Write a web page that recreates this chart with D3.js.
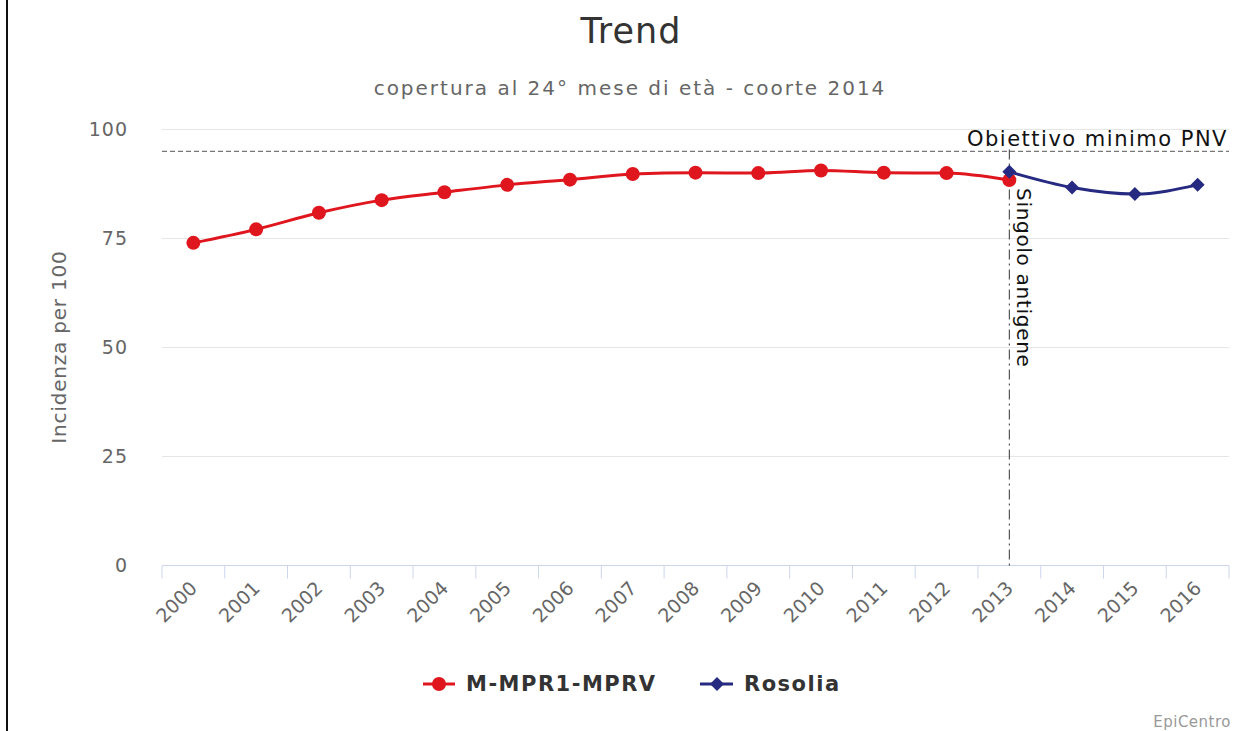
<!DOCTYPE html>
<html>
<head>
<meta charset="utf-8">
<script src="https://cdn.jsdelivr.net/npm/d3@7"></script>
<style>
  html, body { margin: 0; padding: 0; background: #fff; }
  svg { display: block; font-family: "DejaVu Sans", "Open Sans", sans-serif; }
</style>
</head>
<body>
<svg id="chart" width="1251" height="731"></svg>
<script>
// ---- data ----
const years = ["2000","2001","2002","2003","2004","2005","2006","2007","2008","2009","2010","2011","2012","2013","2014","2015","2016"];
const mprYears = ["2000","2001","2002","2003","2004","2005","2006","2007","2008","2009","2010","2011","2012","2013"];
const mprValues = [74.0, 77.1, 80.9, 83.8, 85.6, 87.3, 88.5, 89.8, 90.1, 90.0, 90.6, 90.1, 90.0, 88.4];
const rosYears = ["2013","2014","2015","2016"];
const rosValues = [90.3, 86.7, 85.2, 87.3];
const yTicks = [0, 25, 50, 75, 100];
const objective = 95;
const plotLineYear = "2013";
const seriesNames = ["M-MPR1-MPRV", "Rosolia"];

(function () {
const svg = d3.select("#chart");
const W = 1251, H = 731;
const pLeft = 162, pRight = 1229, pTop = 129.5, pBottom = 565.5;
const red = "#e0161e", blue = "#262a80";

// frame line on the left
svg.append("line").attr("x1", 7).attr("x2", 7).attr("y1", 0).attr("y2", H)
  .attr("stroke", "#111").attr("stroke-width", 2);

const x = d3.scaleBand().domain(years).range([pLeft, pRight]).padding(0);
const xc = d => x(d) + x.bandwidth() / 2;
const y = d3.scaleLinear().domain([0, 100]).range([pBottom, pTop]);

// gridlines
svg.append("g").selectAll("line").data(yTicks.filter(t => t > 0)).join("line")
  .attr("x1", pLeft).attr("x2", pRight)
  .attr("y1", d => y(d)).attr("y2", d => y(d))
  .attr("stroke", "#e6e6e6").attr("stroke-width", 1);

// y labels
svg.append("g").selectAll("text").data(yTicks).join("text")
  .attr("x", 128).attr("y", d => y(d)).attr("dy", "0.35em")
  .attr("text-anchor", "end").attr("fill", "#666").attr("font-size", 19)
  .attr("letter-spacing", 1)
  .text(d => d);

// y title
svg.append("text")
  .attr("transform", `translate(${66},${347}) rotate(-90)`)
  .attr("text-anchor", "middle").attr("fill", "#666").attr("font-size", 20)
  .attr("letter-spacing", 0.8)
  .text("Incidenza per 100");

// x axis line and ticks
svg.append("line").attr("x1", pLeft).attr("x2", pRight).attr("y1", pBottom).attr("y2", pBottom)
  .attr("stroke", "#ccd6eb").attr("stroke-width", 1);
const tickPos = years.map(d => x(d)).concat([pRight]);
svg.append("g").selectAll("line").data(tickPos).join("line")
  .attr("x1", d => d).attr("x2", d => d).attr("y1", pBottom).attr("y2", pBottom + 13)
  .attr("stroke", "#ccd6eb").attr("stroke-width", 1);

// x labels (rotated)
svg.append("g").selectAll("text").data(years).join("text")
  .attr("transform", d => `translate(${xc(d) + 5},${pBottom + 24}) rotate(-45)`)
  .attr("text-anchor", "end").attr("fill", "#666").attr("font-size", 19)
  .text(d => d);

// objective line
svg.append("line").attr("x1", pLeft).attr("x2", pRight)
  .attr("y1", y(objective)).attr("y2", y(objective))
  .attr("stroke", "#555").attr("stroke-width", 1).attr("stroke-dasharray", "5,3");
svg.append("text").attr("x", pRight - 1).attr("y", y(objective) - 5)
  .attr("text-anchor", "end").attr("fill", "#111").attr("font-size", 21)
  .attr("letter-spacing", 1.5)
  .text("Obiettivo minimo PNV");

// vertical plot line
svg.append("line").attr("x1", xc(plotLineYear)).attr("x2", xc(plotLineYear))
  .attr("y1", pTop + 20).attr("y2", pBottom)
  .attr("stroke", "#333").attr("stroke-width", 1).attr("stroke-dasharray", "10,4,2,4");
svg.append("text")
  .attr("transform", `translate(${xc(plotLineYear) + 8},${188}) rotate(90)`)
  .attr("text-anchor", "start").attr("fill", "#111").attr("font-size", 20)
  .attr("letter-spacing", 0.7)
  .text("Singolo antigene");

// series
const line = d3.line().curve(d3.curveMonotoneX);
const mprPts = mprYears.map((d, i) => [xc(d), y(mprValues[i])]);
const rosPts = rosYears.map((d, i) => [xc(d), y(rosValues[i])]);

svg.append("path").attr("d", line(mprPts)).attr("fill", "none")
  .attr("stroke", red).attr("stroke-width", 3);
svg.append("g").selectAll("circle").data(mprPts).join("circle")
  .attr("cx", d => d[0]).attr("cy", d => d[1]).attr("r", 7).attr("fill", red);

svg.append("path").attr("d", line(rosPts)).attr("fill", "none")
  .attr("stroke", blue).attr("stroke-width", 3);
const diamond = (cx, cy, r) => `M${cx},${cy - r}L${cx + r},${cy}L${cx},${cy + r}L${cx - r},${cy}Z`;
svg.append("g").selectAll("path").data(rosPts).join("path")
  .attr("d", d => diamond(d[0], d[1], 7)).attr("fill", blue);

// title & subtitle
svg.append("text").attr("x", 631).attr("y", 43).attr("text-anchor", "middle")
  .attr("fill", "#333").attr("font-size", 35).attr("letter-spacing", 1).text("Trend");
svg.append("text").attr("x", 630).attr("y", 95).attr("text-anchor", "middle")
  .attr("fill", "#666").attr("font-size", 20).attr("letter-spacing", 2)
  .text("copertura al 24° mese di età - coorte 2014");

// legend
const lg = svg.append("g");
const ly = 684;
lg.append("line").attr("x1", 423).attr("x2", 455).attr("y1", ly).attr("y2", ly)
  .attr("stroke", red).attr("stroke-width", 3);
lg.append("circle").attr("cx", 439).attr("cy", ly).attr("r", 7).attr("fill", red);
lg.append("text").attr("x", 466).attr("y", ly).attr("dy", "0.35em")
  .attr("fill", "#333").attr("font-size", 21).attr("font-weight", "bold")
  .attr("letter-spacing", 1.5).text(seriesNames[0]);
lg.append("line").attr("x1", 700).attr("x2", 733).attr("y1", ly).attr("y2", ly)
  .attr("stroke", blue).attr("stroke-width", 3);
lg.append("path").attr("d", diamond(717, ly, 7)).attr("fill", blue);
lg.append("text").attr("x", 744).attr("y", ly).attr("dy", "0.35em")
  .attr("fill", "#333").attr("font-size", 21).attr("font-weight", "bold")
  .attr("letter-spacing", 1.5).text(seriesNames[1]);

// credits
svg.append("text").attr("x", 1231).attr("y", 727).attr("text-anchor", "end")
  .attr("fill", "#999").attr("font-size", 15).attr("letter-spacing", 0.5).text("EpiCentro");
})();
</script>
</body>
</html>
